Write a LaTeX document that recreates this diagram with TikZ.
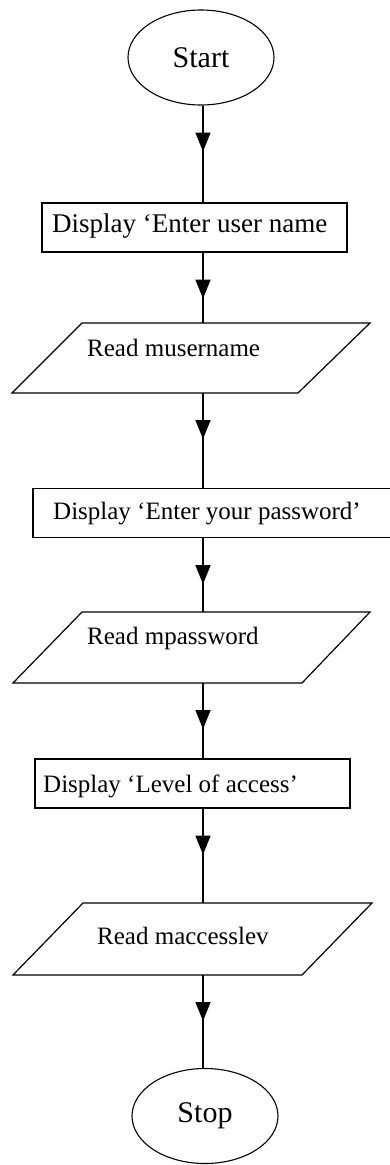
\documentclass[tikz,border=0pt]{standalone}
\usepackage{fontspec}
\setmainfont{Liberation Serif}
\usetikzlibrary{shapes.geometric,arrows.meta,decorations.markings}
\begin{document}
\begin{tikzpicture}[x=1pt,y=-1pt,
  term/.style={ellipse, draw, line width=1.1pt, minimum width=146pt, minimum height=95pt, inner sep=0pt, font=\fontsize{30}{32}\selectfont},
  proc/.style={draw, rectangle, line width=1.2pt, minimum height=49pt, inner sep=0pt},
  lbl/.style={font=\fontsize{25}{28}\selectfont, inner sep=0pt, anchor=west},
  para/.style={draw, line width=1.2pt, line join=miter},
  flow/.style={line width=1.5pt, decoration={markings, mark=at position 46pt with {\arrow{Triangle[width=15pt,length=19pt]}}}, postaction={decorate}}]
\useasboundingbox (0,0) rectangle (390,1165);
\coordinate (col) at (203,0);

% terminals
\node[term] (start) at (201,57.5) {Start};
\node[term] (stop) at (205,1116) {Stop};

% process boxes
\node[proc, minimum width=305pt] (b1) at (194.5,227.5) {};
\node[lbl] (t1) at (52,226) {\fontsize{27}{29}\selectfont Display ‘Enter user name};

\node[proc, minimum width=367pt] (b2) at (216.5,513) {};
\node[lbl] (t2) at (53,514) {Display ‘Enter your password’};

\node[proc, minimum width=315pt] (b3) at (192.5,783.5) {};
\node[lbl] (t3) at (43,786) {Display ‘Level of access’};

% input parallelograms
\draw[para] (82,323) -- (370,323) -- (298,393) -- (12,393) -- cycle;
\node[lbl] (r1) at (87,348) {Read musername};
\coordinate (p1top) at (203,323);
\coordinate (p1bot) at (203,393);

\draw[para] (82,612) -- (370,612) -- (302,683) -- (13,683) -- cycle;
\node[lbl] (r2) at (87,638) {Read mpassword};
\coordinate (p2top) at (203,612);
\coordinate (p2bot) at (203,683);

\draw[para] (83,903) -- (372,903) -- (302,975) -- (13,975) -- cycle;
\node[lbl] (r3) at (97,936) {Read maccesslev};
\coordinate (p3top) at (203,903);
\coordinate (p3bot) at (203,975);

% connectors
\draw[flow] (start.south -| col) -- (b1.north -| col);
\draw[flow] (b1.south -| col) -- (p1top);
\draw[flow] (p1bot) -- (b2.north -| col);
\draw[flow] (b2.south -| col) -- (p2top);
\draw[flow] (p2bot) -- (b3.north -| col);
\draw[flow] (b3.south -| col) -- (p3top);
\draw[flow] (p3bot) -- (stop.north -| col);
\end{tikzpicture}
\end{document}
